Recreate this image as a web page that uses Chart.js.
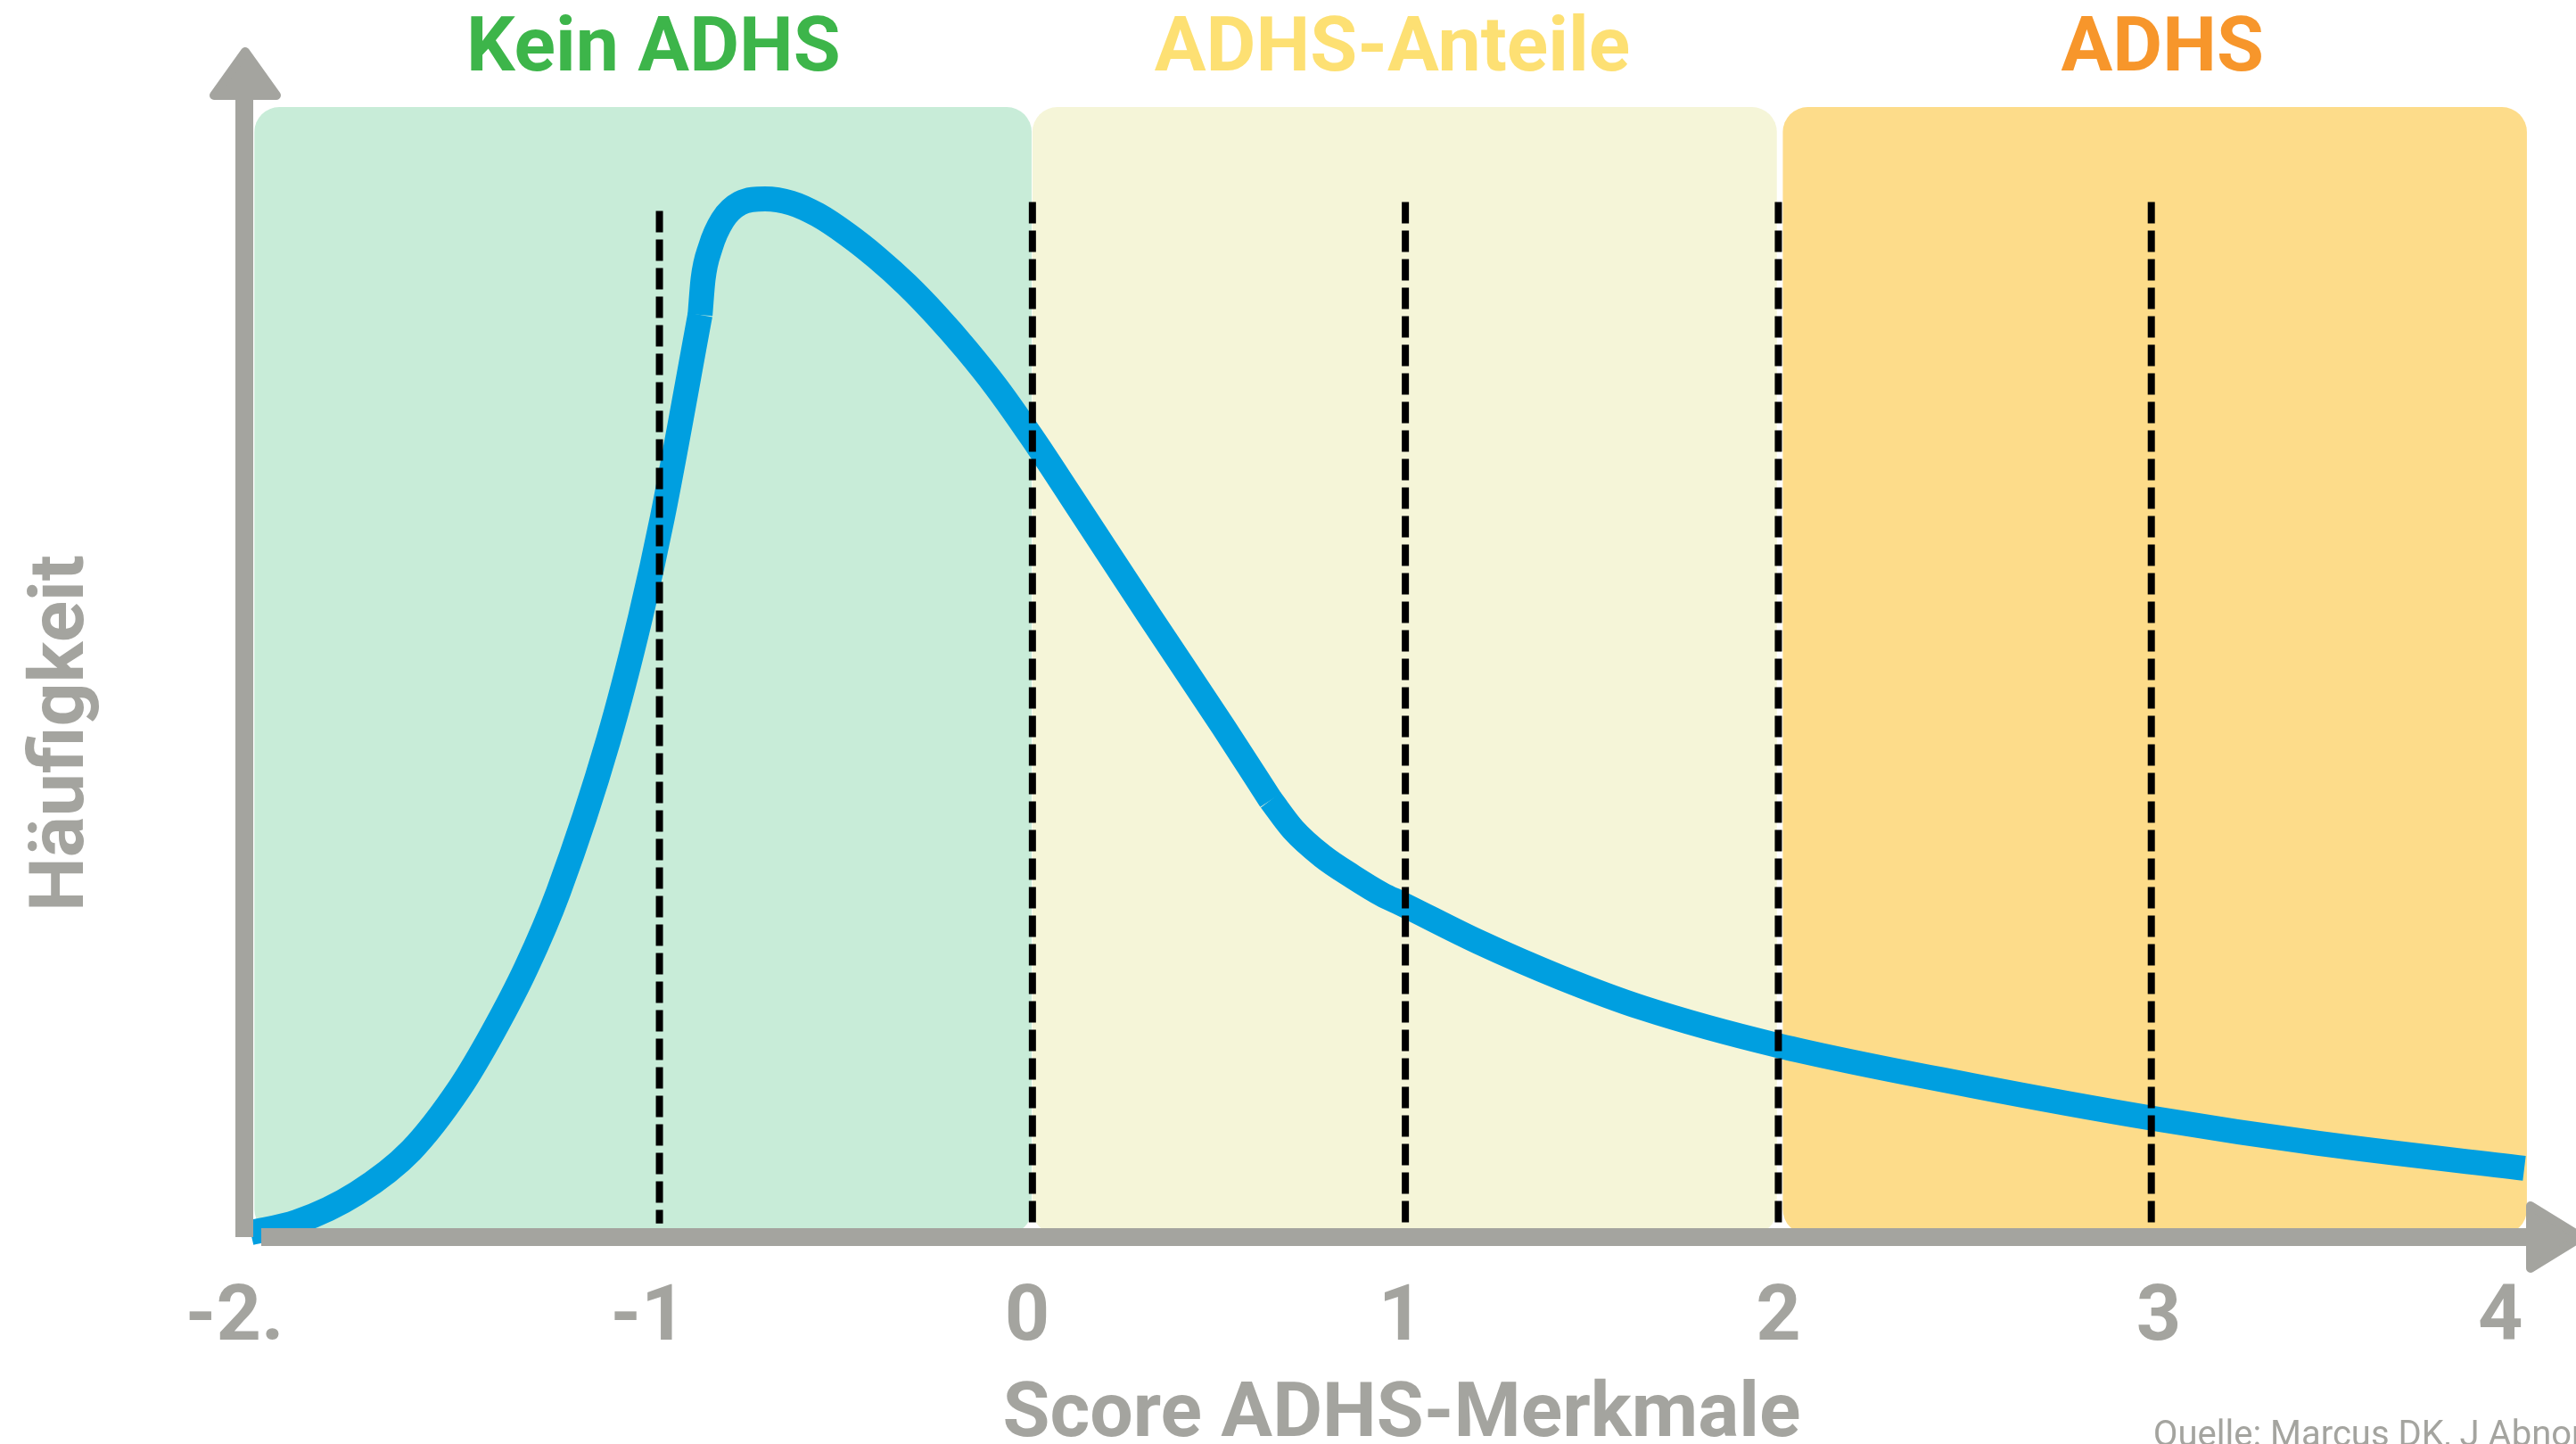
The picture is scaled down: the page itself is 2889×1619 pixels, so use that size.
<!DOCTYPE html>
<html lang="de">
<head>
<meta charset="utf-8">
<title>Score ADHS-Merkmale</title>
<script src="https://cdn.jsdelivr.net/npm/chart.js@4/dist/chart.umd.min.js"></script>
<style>
  html, body { margin: 0; padding: 0; background: #fff; }
  #wrap { position: relative; width: 2889px; height: 1619px; }
</style>
</head>
<body>
<div id="wrap"><canvas id="chart"></canvas></div>
<script>
// distribution curve (x = score, y = share of plot height)
// drawn as three pieces, like the original, so the two kinks stay sharp
const riseX = [-2.096, -1.972, -1.812, -1.666, -1.534, -1.446, -1.357, -1.271, -1.137, -1.051, -0.992, -0.891];
const riseY = [0.39, 1.34, 3.87, 7.66, 13.26, 18.15, 23.84, 30.54, 43.96, 54.85, 63.69, 81.61];

const peakX = [-0.891, -0.883, -0.863, -0.831, -0.784, -0.717, -0.647, -0.576, -0.497, -0.418,
  -0.337, -0.258, -0.179, -0.097, -0.002, 0.101, 0.316, 0.512, 0.639];
const peakY = [81.61, 84.77, 87.61, 89.98, 91.48, 91.87, 91.51, 90.46, 88.74, 86.69,
  84.28, 81.59, 78.62, 75.23, 70.80, 65.67, 54.85, 45.15, 38.67];

const tailX = [0.639, 0.699, 0.778, 0.859, 0.938, 0.988, 1.196, 1.416, 1.636, 1.997, 2.518, 3.006, 3.448, 4.0];
const tailY = [38.67, 36.07, 33.70, 31.89, 30.31, 29.52, 26.12, 22.97, 20.28, 16.97, 13.42, 10.50, 8.29, 6.08];

const xTickValues = [-2.139, -1.03, -0.014, 0.988, 2.0, 3.02, 3.936];
const xTickLabels = ["-2.", "-1", "0", "1", "2", "3", "4"];

// dashed cut-off lines
const cutLines = [-1, 0, 1, 2, 3];
const cutTop = [90.8, 91.6, 91.6, 91.6, 91.6];
const cutBottom = 1.2;

const zoneNames = ["Kein ADHS", "ADHS-Anteile", "ADHS"];
const zoneFrom = [-2.086, 0.0, 2.012];
const zoneTo = [-0.002, 1.996, 4.007];
const zoneLabelAt = [-1.016, 0.965, 3.03];

const X_MIN = -2.113, X_MAX = 4.0;
const GRAY = "#a4a49f";
const BLUE = "#009fe0";
const zoneFill = ["#c8ecd8", "#f5f5d8", "#fddc8a"];
const zoneText = ["#3db54a", "#fde073", "#f7962b"];
const FONT = "Roboto";

const zonesPlugin = {
    id: "zones",
    beforeDatasetsDraw(chart) {
        const { ctx, scales: { x, y } } = chart;
        const top = y.getPixelForValue(100);
        const bottom = y.getPixelForValue(0) - 3;
        ctx.save();
        zoneFrom.forEach((from, i) => {
            const left = x.getPixelForValue(from);
            const right = x.getPixelForValue(zoneTo[i]);
            ctx.fillStyle = zoneFill[i];
            ctx.beginPath();
            ctx.roundRect(left, top, right - left, bottom - top, 28);
            ctx.fill();
        });
        ctx.restore();
    }
};

const axesPlugin = {
    id: "arrows",
    afterDatasetsDraw(chart) {
        const { ctx, chartArea: a } = chart;
        const x0 = a.left, y0 = a.bottom;
        ctx.save();
        ctx.fillStyle = GRAY;
        ctx.strokeStyle = GRAY;
        ctx.lineJoin = "round";
        ctx.lineWidth = 10;
        // y axis
        ctx.fillRect(x0 - 10, 107, 20, y0 - 107);
        ctx.beginPath();
        ctx.moveTo(x0 + 1, 58);
        ctx.lineTo(x0 + 36, 107);
        ctx.lineTo(x0 - 34, 107);
        ctx.closePath();
        ctx.fill();
        ctx.stroke();
        // x axis
        ctx.fillRect(x0 + 19, y0 - 10, a.right + 8 - (x0 + 19), 20);
        ctx.beginPath();
        ctx.moveTo(a.right + 7, y0 - 35);
        ctx.lineTo(a.right + 64, y0);
        ctx.lineTo(a.right + 7, y0 + 35);
        ctx.closePath();
        ctx.fill();
        ctx.stroke();
        ctx.restore();
    }
};

const textPlugin = {
    id: "texts",
    afterDraw(chart) {
        const { ctx, scales: { x } } = chart;
        ctx.save();
        ctx.textAlign = "center";
        ctx.textBaseline = "alphabetic";
        ctx.font = `bold 86px ${FONT}`;
        zoneNames.forEach((name, i) => {
            ctx.fillStyle = zoneText[i];
            ctx.fillText(name, x.getPixelForValue(zoneLabelAt[i]), 79);
        });
        ctx.fillStyle = GRAY;
        ctx.fillText("Score ADHS-Merkmale", 1572, 1610);

        ctx.save();
        ctx.translate(93, 822);
        ctx.rotate(-Math.PI / 2);
        ctx.fillText("Häufigkeit", 0, 0);
        ctx.restore();

        ctx.textAlign = "left";
        ctx.font = `40px ${FONT}`;
        ctx.fillText("Quelle: Marcus DK, J Abnorm Psychol 2011", 2415, 1621);
        ctx.restore();
    }
};

function curvePiece(xs, ys) {
    return {
        label: "Häufigkeit",
        data: xs.map((v, i) => ({ x: v, y: ys[i] })),
        borderColor: BLUE,
        borderWidth: 28,
        cubicInterpolationMode: "monotone",
        pointRadius: 0,
        clip: false,
        order: 1
    };
}

function buildChart() {
    const datasets = [
        curvePiece(riseX, riseY),
        curvePiece(peakX, peakY),
        curvePiece(tailX, tailY)
    ];
    cutLines.forEach((v, i) => {
        datasets.push({
            label: "cut " + v,
            data: [{ x: v, y: cutTop[i] }, { x: v, y: cutBottom }],
            borderColor: "#000",
            borderWidth: 8,
            borderDash: [24, 8],
            borderCapStyle: "butt",
            pointRadius: 0,
            clip: false,
            order: 0
        });
    });

    new Chart(document.getElementById("chart"), {
        type: "line",
        data: { datasets },
        options: {
            responsive: true,
            maintainAspectRatio: false,
            animation: false,
            devicePixelRatio: 1,
            layout: { padding: { left: 274, right: 58, top: 120, bottom: 0 } },
            plugins: { legend: { display: false }, tooltip: { enabled: false } },
            scales: {
                x: {
                    type: "linear",
                    min: X_MIN,
                    max: X_MAX,
                    bounds: "data",
                    grid: { display: false, drawTicks: false },
                    border: { display: false },
                    afterBuildTicks: s => { s.ticks = xTickValues.map(v => ({ value: v })); },
                    afterFit: s => { s.height = 232; },
                    ticks: {
                        autoSkip: false,
                        maxRotation: 0,
                        padding: 40,
                        color: GRAY,
                        font: { family: FONT, weight: "bold", size: 88 },
                        callback: (v, i) => xTickLabels[i]
                    }
                },
                y: { type: "linear", min: 0, max: 100, display: false }
            }
        },
        plugins: [zonesPlugin, axesPlugin, textPlugin]
    });
}

Promise.all([
    document.fonts.load(`bold 88px ${FONT}`),
    document.fonts.load(`40px ${FONT}`)
]).then(buildChart, buildChart);
</script>
</body>
</html>
